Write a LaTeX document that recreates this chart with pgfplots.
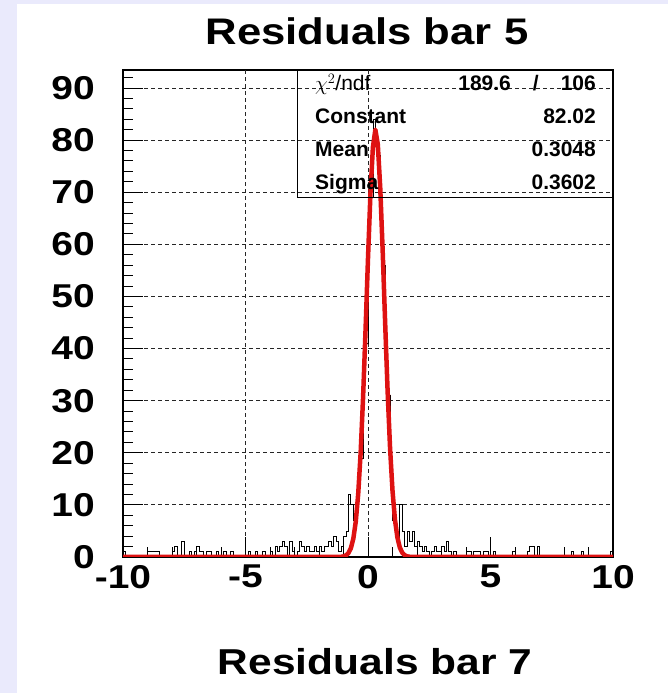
\documentclass[border=0pt]{standalone}
\usepackage{fontspec}
\setmainfont{Liberation Sans}
\newfontfamily\wide{Liberation Sans}[FakeStretch=1.18]
\usepackage{pgfplots}
\pgfplotsset{compat=1.18}
\definecolor{bgl}{RGB}{234,234,252}
\definecolor{fitred}{RGB}{222,18,18}
\begin{document}
\begin{tikzpicture}[x=1pt,y=1pt]
\useasboundingbox (0,0) rectangle (668,693);
\fill[bgl] (0,0) rectangle (668,693);
\fill[white] (17,0) rectangle (668,689);
\begin{axis}[
  at={(123pt,136pt)}, anchor=south west,
  width=490pt, height=487pt, scale only axis,
  xmin=-10, xmax=10, ymin=0, ymax=93.46,
  axis line style={line width=1.2pt},
  xtick={-10,-5,0,5,10},
  xticklabels={-10,-5,0,5,10},
  minor xtick={-9,-8,-7,-6,-4,-3,-2,-1,1,2,3,4,6,7,8,9},
  ytick={0,10,...,90},
  minor ytick={2,4,6,8,12,14,16,18,22,24,26,28,32,34,36,38,42,44,46,48,52,54,56,58,62,64,66,68,72,74,76,78,82,84,86,88,92},
  tick align=inside,
  xtick pos=bottom, ytick pos=left,
  major tick length=20pt, minor tick length=10pt,
  every tick/.style={black, line width=1pt},
  xmajorgrids=false, ymajorgrids=true,
  extra x ticks={-5,0}, extra x tick labels={},
  extra x tick style={xmajorgrids=true, major tick length=20pt},
  major grid style={black!85, line width=0.8pt, dash pattern=on 4pt off 3pt},
  ticklabel style={font=\wide\bfseries\fontsize{33}{33}\selectfont, inner sep=0pt},
  xticklabel style={yshift=-8pt},
  yticklabel style={xshift=-28pt},
  /pgf/number format/assume math mode=true,
]
\addplot[const plot mark left, black, line width=0.8pt] coordinates {
(-10,0) (-10,1) (-9.9,0) (-9.0,1) (-8.5,0) (-8.0,1) (-7.9,2) (-7.8,0) (-7.6,3) (-7.5,0)
(-7.3,1) (-7.2,0) (-7.1,1) (-7.0,2) (-6.9,1) (-6.7,0) (-6.6,1) (-6.4,0) (-6.2,1) (-6.1,0)
(-5.9,1) (-5.8,0) (-5.6,1) (-5.5,0) (-4.9,1) (-4.8,0) (-4.6,1) (-4.5,0) (-4.3,1) (-4.2,0)
(-4.0,1) (-3.9,0) (-3.8,2) (-3.7,1) (-3.6,2) (-3.5,3) (-3.4,2) (-3.3,0) (-3.2,3) (-3.1,1)
(-3.0,0) (-2.9,1) (-2.8,3) (-2.7,2) (-2.6,1) (-2.5,2) (-2.4,1) (-2.3,1) (-2.2,2) (-2.1,1)
(-2.0,2) (-1.9,1) (-1.8,2) (-1.7,2) (-1.6,3) (-1.5,2) (-1.4,4) (-1.3,3) (-1.2,1) (-1.1,2)
(-1.0,4) (-0.9,5) (-0.8,12) (-0.7,10) (-0.6,7) (-0.5,9) (-0.4,14) (-0.3,19) (-0.2,33) (-0.1,41)
(0.0,60) (0.1,69) (0.2,84) (0.3,81) (0.4,77) (0.5,68) (0.6,56) (0.7,43) (0.8,31) (0.9,16)
(1.0,7) (1.1,4) (1.2,3) (1.3,10) (1.4,5) (1.5,2) (1.6,5) (1.7,3) (1.8,5) (1.9,2)
(2.0,3) (2.1,2) (2.2,1) (2.3,2) (2.4,1) (2.5,0) (2.6,1) (2.7,2) (2.8,1) (2.9,1)
(3.0,2) (3.1,1) (3.2,3) (3.3,1) (3.4,0) (3.5,1) (3.6,0) (4.0,1) (4.2,0) (4.3,1)
(4.6,0) (4.7,1) (4.9,0) (5.1,1) (5.2,0) (5.9,1) (6.0,0) (6.5,1) (6.6,2) (6.8,0)
(6.9,2) (7.0,0) (8.3,1) (8.4,0) (8.7,1) (8.8,0) (9.9,1) (10,1) (10,0)
};
\addplot[fitred, line width=4.5pt, line join=round] coordinates {
(-10,0) (-1.3,0) (-1.2,0.013) (-1.1,0.041) (-1.0,0.116) (-0.9,0.305) (-0.8,0.743) (-0.7,1.675)
(-0.6,3.496) (-0.5,6.761) (-0.4,12.10) (-0.3,20.03) (-0.2,30.72) (-0.1,43.62) (0.0,57.33)
(0.1,69.77) (0.2,78.62) (0.3,82.01) (0.4,79.20) (0.5,70.83) (0.6,58.63) (0.7,44.93)
(0.8,31.88) (0.9,20.94) (1.0,12.74) (1.1,7.17) (1.2,3.74) (1.3,1.80) (1.4,0.81) (1.5,0.33)
(1.6,0.13) (1.7,0.045) (1.8,0.015) (1.9,0) (10,0)
};
\end{axis}
% stats box
\draw[black, line width=1pt] (297,495) rectangle (613,623);
\node[anchor=base west, inner sep=0pt] at (315,602) {\fontsize{21}{21}\selectfont $\chi^2$/ndf};
\node[anchor=base east, inner sep=0pt] at (596,602) {\bfseries\fontsize{21}{21}\selectfont 189.6\hspace{22pt}/\hspace{22pt}106};
\node[anchor=base west, inner sep=0pt] at (315,569) {\bfseries\fontsize{21}{21}\selectfont Constant};
\node[anchor=base east, inner sep=0pt] at (596,569) {\bfseries\fontsize{21}{21}\selectfont 82.02};
\node[anchor=base west, inner sep=0pt] at (315,536) {\bfseries\fontsize{21}{21}\selectfont Mean};
\node[anchor=base east, inner sep=0pt] at (596,536) {\bfseries\fontsize{21}{21}\selectfont 0.3048};
\node[anchor=base west, inner sep=0pt] at (315,503) {\bfseries\fontsize{21}{21}\selectfont Sigma};
\node[anchor=base east, inner sep=0pt] at (596,503) {\bfseries\fontsize{21}{21}\selectfont 0.3602};
% titles
\node[anchor=base, inner sep=0pt] at (367,648) {\wide\bfseries\fontsize{37}{37}\selectfont Residuals bar 5};
\node[anchor=base, inner sep=0pt] at (375,18) {\wide\bfseries\fontsize{36}{36}\selectfont Residuals bar 7};
\end{tikzpicture}
\end{document}
